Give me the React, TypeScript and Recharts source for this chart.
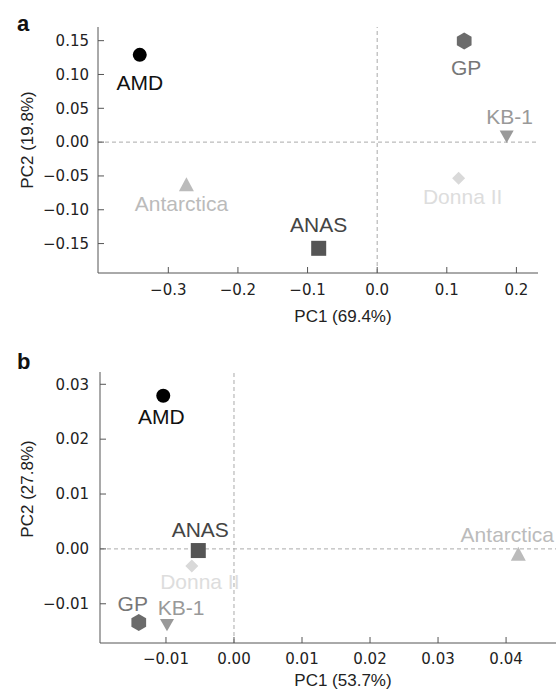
import { ScatterChart, Scatter, XAxis, YAxis, ReferenceLine, Label } from "recharts";

// sample order shared by both panels
const samples = ["AMD", "GP", "KB-1", "Donna II", "Antarctica", "ANAS"];

// panel a: PC1 (69.4%) / PC2 (19.8%)
const pc1A = [-0.341, 0.125, 0.186, 0.117, -0.274, -0.084];
const pc2A = [0.129, 0.1495, 0.008, -0.0535, -0.0624, -0.157];

// panel b: PC1 (53.7%) / PC2 (27.8%)
const pc1B = [-0.0104, -0.014, -0.00985, -0.0062, 0.0418, -0.00525];
const pc2B = [0.0279, -0.0134, -0.0139, -0.0031, -0.0009, -0.0003];

const ticksXA = [-0.3, -0.2, -0.1, 0, 0.1, 0.2];
const ticksYA = [-0.15, -0.1, -0.05, 0, 0.05, 0.1, 0.15];
const ticksXB = [-0.01, 0, 0.01, 0.02, 0.03, 0.04];
const ticksYB = [-0.01, 0, 0.01, 0.02, 0.03];

const SANS = "'Liberation Sans', Arial, sans-serif";
const TICK_FONT = "'DejaVu Sans', sans-serif";

// marker look per sample
const markerStyle: Record<string, { kind: string; fill: string; text: string }> = {
  AMD: { kind: "circle", fill: "#000000", text: "#111111" },
  GP: { kind: "hexagon", fill: "#6b6b6b", text: "#777777" },
  "KB-1": { kind: "triangleDown", fill: "#999999", text: "#999999" },
  "Donna II": { kind: "diamond", fill: "#d9d9d9", text: "#dddddd" },
  Antarctica: { kind: "triangle", fill: "#bbbbbb", text: "#bbbbbb" },
  ANAS: { kind: "square", fill: "#555555", text: "#444444" },
};

// where each text label sits relative to its marker (px)
const labelOffsetA: Record<string, number[]> = {
  AMD: [0, 28], GP: [2, 26], "KB-1": [3, -20], "Donna II": [4, 18], Antarctica: [-5, 19], ANAS: [0, -24],
};
const labelOffsetB: Record<string, number[]> = {
  AMD: [-2, 21], GP: [-6, -19], "KB-1": [14, -18], "Donna II": [8, 16], Antarctica: [-11, -19], ANAS: [2, -21],
};

const dataA = samples.map((name, i) => ({ name, pc1: pc1A[i], pc2: pc2A[i] }));
const dataB = samples.map((name, i) => ({ name, pc1: pc1B[i], pc2: pc2B[i] }));

const fmt = (digits: number) => (v: number) => v.toFixed(digits).replace("-", "\u2212");

const drawMarker = (kind: string, cx: number, cy: number, fill: string) => {
  switch (kind) {
    case "circle":
      return <circle cx={cx} cy={cy} r={7} fill={fill} />;
    case "square":
      return <rect x={cx - 7.5} y={cy - 7.5} width={15} height={15} fill={fill} />;
    case "hexagon": {
      const r = 8.5;
      const pts = [0, 1, 2, 3, 4, 5]
        .map((k) => {
          const a = (Math.PI / 3) * k - Math.PI / 2;
          return `${cx + r * Math.cos(a)},${cy + r * Math.sin(a)}`;
        })
        .join(" ");
      return <polygon points={pts} fill={fill} />;
    }
    case "triangle":
      return <polygon points={`${cx},${cy - 7} ${cx + 7.5},${cy + 7} ${cx - 7.5},${cy + 7}`} fill={fill} />;
    case "triangleDown":
      return <polygon points={`${cx - 7},${cy - 6.2} ${cx + 7},${cy - 6.2} ${cx},${cy + 6.2}`} fill={fill} />;
    case "diamond":
      return <polygon points={`${cx},${cy - 6.5} ${cx + 6.5},${cy} ${cx},${cy + 6.5} ${cx - 6.5},${cy}`} fill={fill} />;
    default:
      return null;
  }
};

const makeShape = (offsets: Record<string, number[]>) => (props: any) => {
  const { cx, cy, payload } = props;
  const st = markerStyle[payload.name];
  const [dx, dy] = offsets[payload.name];
  return (
    <g>
      {drawMarker(st.kind, cx, cy, st.fill)}
      <text
        x={cx + dx}
        y={cy + dy + 7.5}
        textAnchor="middle"
        fontSize={21}
        fontFamily={SANS}
        fill={st.text}
      >
        {payload.name}
      </text>
    </g>
  );
};

const xTitle = (text: string, x: number, y: number) => () => (
  <text x={x} y={y} textAnchor="middle" fontSize={17} fontFamily={SANS} fill="#222">
    {text}
  </text>
);

const yTitle = (text: string, y: number, letter: string, letterY: number) => () => (
  <g>
    <text
      x={33}
      y={y}
      transform={`rotate(-90, 33, ${y})`}
      textAnchor="middle"
      fontSize={17}
      fontFamily={SANS}
      fill="#222"
    >
      {text}
    </text>
    <text x={17} y={letterY} fontSize={22} fontWeight="bold" fontFamily={SANS} fill="#111">
      {letter}
    </text>
  </g>
);

const axisProps = {
  stroke: "#555",
  tickSize: -6,
  interval: 0 as const,
  allowDataOverflow: true,
  tick: { fill: "#222", fontSize: 15, fontFamily: TICK_FONT },
};

export default function App() {
  return (
    <div style={{ position: "absolute", left: 0, top: 0, width: 556, height: 691, overflow: "hidden", background: "#fff" }}>
      <div style={{ position: "absolute", left: 0, top: 0 }}>
        <ScatterChart width={556} height={330} margin={{ top: 27, right: 18, bottom: 17, left: 0 }}>
          <XAxis
            {...axisProps}
            type="number"
            dataKey="pc1"
            domain={[-0.401, 0.231]}
            ticks={ticksXA}
            tickFormatter={fmt(1)}
            tickMargin={17}
            height={40}
          >
            <Label content={xTitle("PC1 (69.4%)", 343, 322)} />
          </XAxis>
          <YAxis
            {...axisProps}
            type="number"
            dataKey="pc2"
            domain={[-0.1935, 0.1702]}
            ticks={ticksYA}
            tickFormatter={fmt(2)}
            tickMargin={15}
            width={98}
          >
            <Label content={yTitle("PC2 (19.8%)", 140, "a", 31)} />
          </YAxis>
          <ReferenceLine x={0} stroke="#aaa" strokeDasharray="4 3" />
          <ReferenceLine y={0} stroke="#aaa" strokeDasharray="4 3" />
          <Scatter data={dataA} shape={makeShape(labelOffsetA)} isAnimationActive={false} />
        </ScatterChart>
      </div>
      <div style={{ position: "absolute", left: 0, top: 330 }}>
        <ScatterChart width={580} height={361} margin={{ top: 42, right: 10, bottom: 8, left: 0 }}>
          <XAxis
            {...axisProps}
            type="number"
            dataKey="pc1"
            domain={[-0.0197, 0.0494]}
            ticks={ticksXB}
            tickFormatter={fmt(2)}
            tickMargin={16}
            height={40}
          >
            <Label content={xTitle("PC1 (53.7%)", 343, 356)} />
          </XAxis>
          <YAxis
            {...axisProps}
            type="number"
            dataKey="pc2"
            domain={[-0.01715, 0.03224]}
            ticks={ticksYB}
            tickFormatter={fmt(2)}
            tickMargin={17}
            width={100}
          >
            <Label content={yTitle("PC2 (27.8%)", 159, "b", 39)} />
          </YAxis>
          <ReferenceLine x={0} stroke="#aaa" strokeDasharray="4 3" />
          <ReferenceLine y={0} stroke="#aaa" strokeDasharray="4 3" />
          <Scatter data={dataB} shape={makeShape(labelOffsetB)} isAnimationActive={false} />
        </ScatterChart>
      </div>
    </div>
  );
}
